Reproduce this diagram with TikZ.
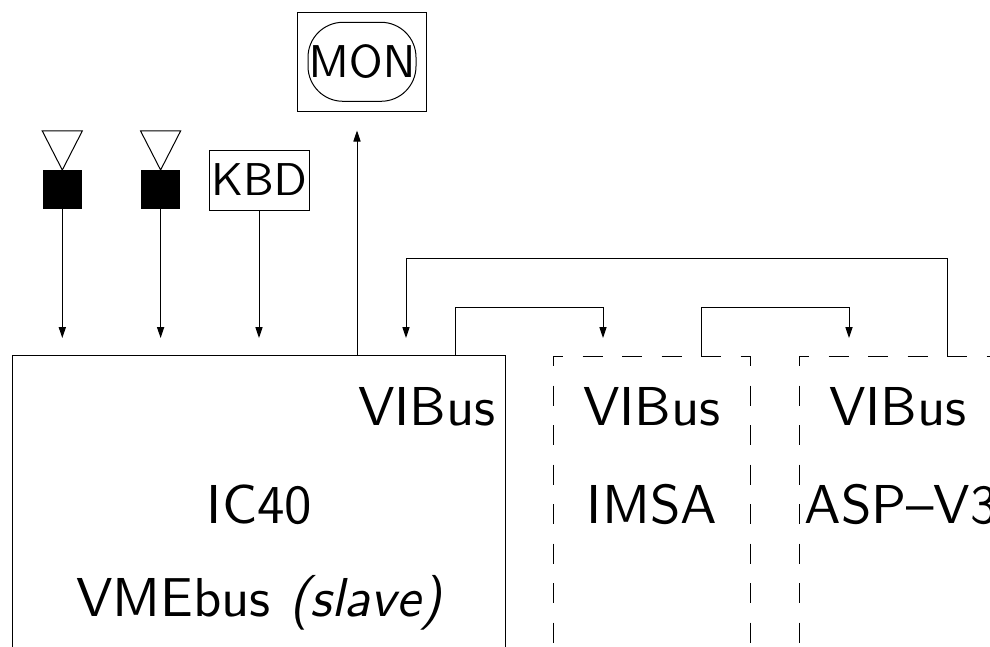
\documentclass[tikz,border=0pt]{standalone}
\usepackage{amsfonts,amssymb,amsmath}
\usepackage{xcolor}
\usetikzlibrary{arrows.meta}
\font\sfbig=cmss10 at 27.4pt
\font\sfbigit=cmssi10 at 27.4pt
\font\sfmid=cmss10 at 23pt
\tikzset{
  boxa/.style={draw,inner sep=0pt,line width=0.5pt},
  padb/.style={fill=black,draw=black,inner sep=0pt,minimum width=19pt,minimum height=19pt},
  txt/.style={inner sep=0pt,font=\sfbig},
  txtm/.style={inner sep=0pt,font=\sfmid},
  cardb/.style={inner sep=0pt,minimum width=98.25pt,minimum height=175pt},
  dashb/.style={dash pattern=on 10pt off 9.75pt,dash phase=5pt}
}
\begin{document}
\begin{tikzpicture}[x=0.5pt,y=-0.5pt,line width=0.5pt,>={Stealth[length=5.5pt,width=3.6pt,inset=0pt]}]
\useasboundingbox (0,0) rectangle (990,647);
\clip (0,0) rectangle (990,647);
% boards
\node[boxa,anchor=north west,minimum width=246.5pt,minimum height=175pt](ic)at(12,355){};
\node[cardb,anchor=north west](imsa)at(553,356){};
\node[cardb,anchor=north west](asp)at(799,356){};
\draw[dashb](imsa.north west)--(imsa.south west);
\draw[dashb](imsa.north west)--(imsa.north east)--(imsa.south east);
\draw[dashb](asp.north west)--(asp.south west);
\draw[dashb](asp.north west)--(asp.north east);
% peripherals
\node[boxa,minimum width=64.5pt,minimum height=49.5pt](mon)at(362,61.8){};
\node[draw,rounded corners=17.5pt,txtm,minimum width=54pt,minimum height=39.5pt](mont)at(362,61.8){MON};
\node[boxa,txtm,minimum width=50pt,minimum height=30pt](kbd)at(259,180){KBD};
\node[padb](pa)at(62.3,189.5){};
\node[padb](pb)at(160.6,189.5){};
\draw(pa.north)--++(-20,-39)--++(40,0)--cycle;
\draw(pb.north)--++(-20,-39)--++(40,0)--cycle;
% labels
\node[txt](vi)at(427,406){VIBus};
\node[txt](ictxt)at(259.5,504){IC40};
\node[txt](vme)at(259,602.5){VMEbus {\sfbigit(slave)}};
\node[txt](vii)at(652,406){VIBus};
\node[txt](imtxt)at(652,504){IMSA};
\node[txt](viii)at(898,406){VIBus};
\node[txt,anchor=west](asptxt)at(804,504){ASP--V3};
% ends of the lines
\coordinate(ta)at(62.3,338);
\coordinate(tb)at(160.6,338);
\coordinate(tk)at(259,338);
\coordinate(tv)at(406,338);
\coordinate(ti)at(603,338);
\coordinate(tp)at(849,338);
\coordinate(mu)at(357,130.5);
\coordinate(mo)at(357,355);
\coordinate(oa)at(455,355);
\coordinate(ob)at(701,356);
\coordinate(oc)at(947,356);
\draw[->](pa.south)--(ta);
\draw[->](pb.south)--(tb);
\draw[->](kbd.south)--(tk);
\draw[->](mo)--(mu);
\draw[->](oa)--++(0,-48)-|(ti);
\draw[->](ob)--++(0,-49)-|(tp);
\draw[->](oc)--++(0,-98)-|(tv);
\end{tikzpicture}
\end{document}
